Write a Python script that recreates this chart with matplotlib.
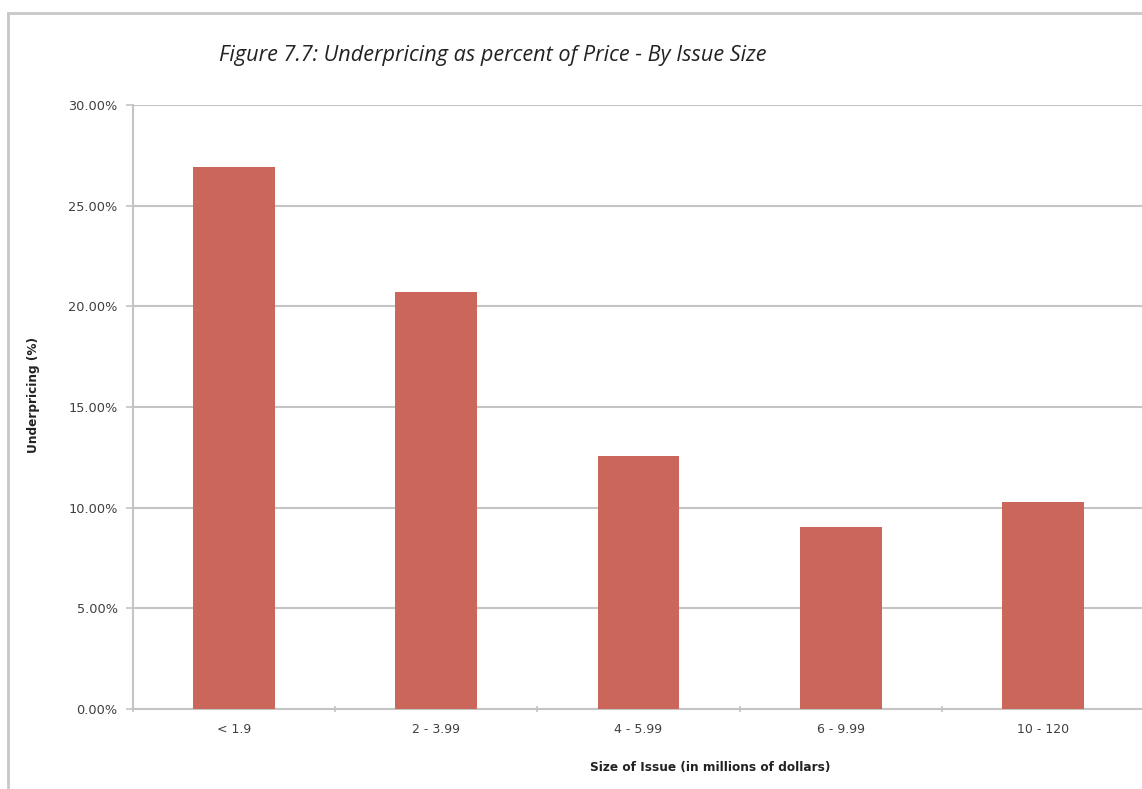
import numpy as np
import matplotlib.pyplot as plt
from matplotlib.lines import Line2D
from matplotlib.ticker import FuncFormatter

# data
categories = ['< 1.9', '2 - 3.99', '4 - 5.99', '6 - 9.99', '10 - 120']
underpricing = [0.2692, 0.2071, 0.1257, 0.0904, 0.1028]
yticks = [0.0, 0.05, 0.10, 0.15, 0.20, 0.25, 0.30]

W, H = 1142, 789
fig = plt.figure(figsize=(W / 100, H / 100), dpi=100)
ax = fig.add_axes([133 / W, 1 - 709 / H, (1144 - 133) / W, (709 - 105) / H])

grid_col = '#c4c4c4'
bar_col = '#cb665b'

x = np.arange(len(categories))
ax.bar(x, underpricing, width=0.405, color=bar_col, zorder=3)

ax.set_xlim(-0.5, len(categories) - 0.5)
ax.set_ylim(0, 0.30)
ax.set_yticks(yticks)
ax.yaxis.set_major_formatter(FuncFormatter(lambda v, p: '%.2f%%' % (v * 100)))
ax.set_xticks(x)
ax.set_xticklabels(categories)
ax.set_xticks(np.arange(len(categories) + 1) - 0.5, minor=True)

for s in ['top', 'right']:
    ax.spines[s].set_visible(False)
for s in ['left', 'bottom']:
    ax.spines[s].set_color(grid_col)
    ax.spines[s].set_linewidth(1.5)

ax.grid(axis='y', color=grid_col, linewidth=1.5, zorder=0)
ax.tick_params(axis='y', which='major', length=5, width=1.2, color=grid_col,
               labelsize=9.3, labelcolor='#404040', pad=6)
ax.tick_params(axis='x', which='major', length=0, labelsize=9,
               labelcolor='#404040', pad=10)
ax.tick_params(axis='x', which='minor', length=4, width=1.2, color=grid_col,
               direction='inout')

fig.text(493 / W, 1 - 56 / H, 'Figure 7.7: Underpricing as percent of Price - By Issue Size',
         ha='center', va='center', style='italic', fontsize=15.6,
         family='Open Sans', color='#222222')
fig.text(710 / W, 1 - 767 / H, 'Size of Issue (in millions of dollars)',
         ha='center', va='center', fontweight='bold', fontsize=8.7, color='#222222')
fig.text(33 / W, 1 - 395 / H, 'Underpricing (%)', rotation=90,
         ha='center', va='center', fontweight='bold', fontsize=8.7, color='#222222')

# outer frame of the chart
fig.add_artist(Line2D([8 / W, 1], [1 - 13 / H, 1 - 13 / H], color='#c8c8c8', linewidth=2))
fig.add_artist(Line2D([8 / W, 8 / W], [0, 1 - 13 / H], color='#c8c8c8', linewidth=2))

fig.savefig('out.png', dpi=100)
